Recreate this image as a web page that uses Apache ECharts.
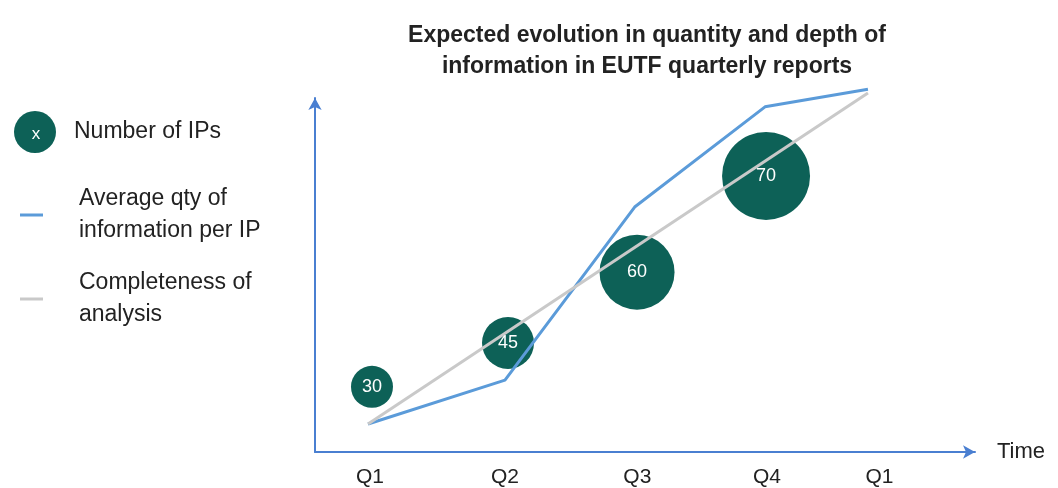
<!DOCTYPE html>
<html>
<head>
<meta charset="utf-8">
<script src="https://cdn.jsdelivr.net/npm/echarts@6/dist/echarts.min.js"></script>
<style>
html, body { margin: 0; padding: 0; background: #fff; }
#chart { width: 1058px; height: 488px; }
</style>
</head>
<body>
<div id="chart"></div>
<script>
// x is in quarter units (0 = first Q1), y is 0..100 up the axis
var tickLabels = ['Q1', 'Q2', 'Q3', 'Q4', 'Q1']
var tickPos = [0, 1.02, 2.02, 3.0, 3.85]

var ipsX = [0.015, 1.043, 2.018, 2.993]
var ipsY = [18.4, 30.8, 50.8, 78.0]
var ipsCount = [30, 45, 60, 70]

var qtyX = [-0.015, 1.02, 2.0, 2.985, 3.763]
var qtyY = [7.9, 20.3, 69.2, 97.5, 102.5]

var complX = [-0.015, 3.763]
var complY = [7.9, 101.4]

// drawing sizes of the bubbles (px)
var bubbleDiam = [42, 52, 75, 88]

var green = '#0d6157'
var blue = '#5b9bd9'
var grey = '#c9c9c9'
var axisBlue = '#4a7fd1'
var font = 'Liberation Sans, Arial, sans-serif'

function pairs(xs, ys) {
	return xs.map(function (x, i) { return [x, ys[i]] })
}

var option = {
	animation: false,
	title: {
		text: 'Expected evolution in quantity and depth of\ninformation in EUTF quarterly reports',
		left: 642,
		top: 15,
		textAlign: 'center',
		textStyle: {
			fontFamily: font,
			fontSize: 23,
			fontWeight: 'bold',
			color: '#222',
			lineHeight: 31
		}
	},
	legend: [
		{ // bubbles
			data: ['Number of IPs'],
			left: 9,
			top: 106,
			orient: 'vertical',
			icon: 'circle',
			itemWidth: 44,
			itemHeight: 42,
			selectedMode: false,
			textStyle: {
				fontFamily: font,
				fontSize: 23,
				color: '#222',
				padding: [0, 0, 0, 12]
			}
		},
		{ // lines
			data: ['Average qty of information per IP', 'Completeness of analysis'],
			left: 15,
			top: 178,
			orient: 'vertical',
			icon: 'rect',
			itemWidth: 23,
			itemHeight: 3,
			itemGap: 20,
			selectedMode: false,
			formatter: function (name) {
				if (name === 'Average qty of information per IP') return 'Average qty of\ninformation per IP'
				return 'Completeness of\nanalysis'
			},
			textStyle: {
				fontFamily: font,
				fontSize: 23,
				color: '#222',
				lineHeight: 32,
				padding: [0, 0, 0, 31]
			}
		}
	],
	graphic: [{
		type: 'text',
		z: 100,
		x: 36,
		y: 134,
		style: {
			text: 'x',
			fill: '#fff',
			font: '17px ' + font,
			align: 'center',
			verticalAlign: 'middle'
		}
	}],
	grid: { left: 315, right: 83, top: 98, bottom: 36 },
	xAxis: {
		type: 'value',
		min: -0.4156,
		max: 4.572,
		name: 'Time',
		nameLocation: 'end',
		nameGap: 22,
		nameTextStyle: { fontFamily: font, fontSize: 22, color: '#222' },
		axisLine: {
			show: true,
			onZero: false,
			symbol: ['none', 'arrow'],
			symbolSize: [10, 12],
			lineStyle: { color: axisBlue, width: 2 }
		},
		axisTick: { show: false },
		splitLine: { show: false },
		axisLabel: {
			customValues: tickPos,
			margin: 15,
			fontFamily: font,
			fontSize: 21,
			color: '#222',
			formatter: function (v) {
				var i = tickPos.indexOf(v)
				return i >= 0 ? tickLabels[i] : ''
			}
		}
	},
	yAxis: {
		type: 'value',
		min: 0,
		max: 100,
		axisLine: {
			show: true,
			onZero: false,
			symbol: ['none', 'arrow'],
			symbolSize: [10, 12],
			lineStyle: { color: axisBlue, width: 2 }
		},
		axisTick: { show: false },
		axisLabel: { show: false },
		splitLine: { show: false }
	},
	series: [
		{
			name: 'Number of IPs',
			type: 'scatter',
			z: 2,
			data: ipsX.map(function (x, i) { return [x, ipsY[i], ipsCount[i]] }),
			symbol: 'circle',
			symbolSize: function (val, params) { return bubbleDiam[params.dataIndex] },
			itemStyle: { color: green, opacity: 1 },
			label: {
				show: true,
				position: 'inside',
				formatter: function (p) { return p.value[2] },
				color: '#fff',
				fontFamily: font,
				fontSize: 18
			}
		},
		{
			name: 'Average qty of information per IP',
			type: 'line',
			z: 3,
			clip: false,
			data: pairs(qtyX, qtyY),
			showSymbol: false,
			symbol: 'none',
			itemStyle: { color: blue },
			lineStyle: { color: blue, width: 3 }
		},
		{
			name: 'Completeness of analysis',
			type: 'line',
			z: 4,
			clip: false,
			data: pairs(complX, complY),
			showSymbol: false,
			symbol: 'none',
			itemStyle: { color: grey },
			lineStyle: { color: grey, width: 3 }
		}
	]
}

var myChart = echarts.init(document.getElementById('chart'))
myChart.setOption(option)
</script>
</body>
</html>
